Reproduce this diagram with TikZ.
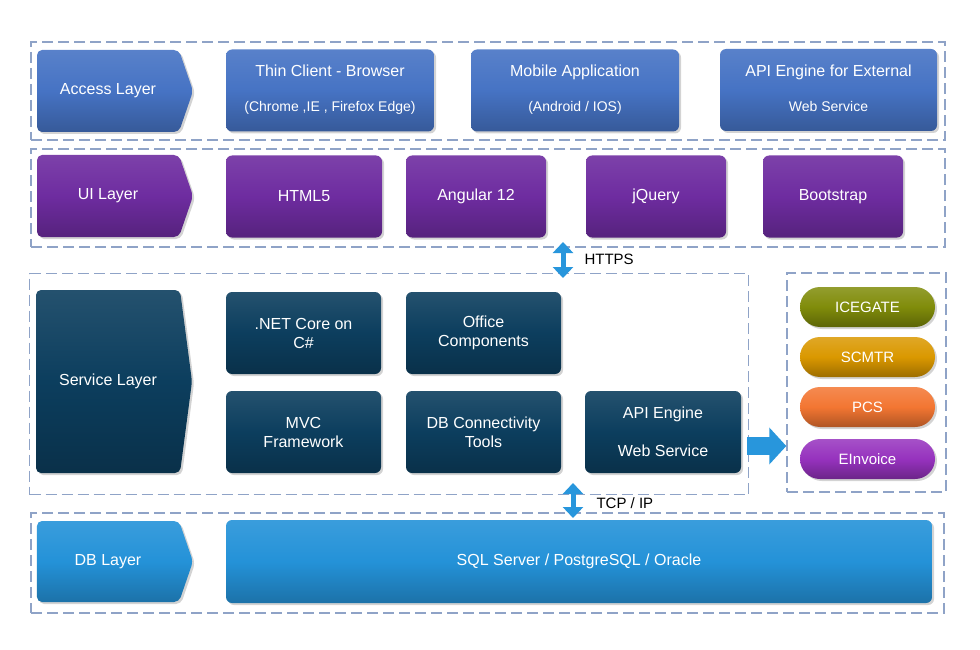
\documentclass[tikz,border=0pt]{standalone}
\usepackage{fontspec}
\setmainfont{Liberation Sans}
\usetikzlibrary{positioning}
\usetikzlibrary{shapes.symbols}
\usetikzlibrary{shapes.misc}
\usetikzlibrary{shadows}
\usetikzlibrary{arrows.meta}
\definecolor{accessblue}{RGB}{70,115,196}
\definecolor{uipurple}{RGB}{110,44,160}
\definecolor{servicedark}{RGB}{12,62,94}
\definecolor{dbblue}{RGB}{36,146,216}
\definecolor{icegateolive}{RGB}{128,140,10}
\definecolor{scmtrgold}{RGB}{218,152,0}
\definecolor{pcsorange}{RGB}{243,118,50}
\definecolor{einvoicepurple}{RGB}{150,50,190}
\definecolor{framegrey}{RGB}{143,163,199}
\definecolor{arrowblue}{RGB}{40,150,220}
\begin{document}
\begin{tikzpicture}[x=1pt, y=-1pt,
    every node/.style={align=center, font=\fontsize{16}{19}\selectfont},
    frame/.style={draw=framegrey, line width=1.4pt, dash pattern=on 11pt off 5pt, inner sep=0pt},
    layer/.style={shape=signal, signal to=east, signal pointer angle=142, rounded corners=5pt,
        minimum width=156pt, minimum height=82pt, inner sep=0pt, text=white,
        top color=#1!90!white, bottom color=#1!78!black, middle color=#1,
        drop shadow={shadow xshift=2pt, shadow yshift=-2pt, opacity=0.35}},
    box/.style={rounded corners=6pt, minimum height=82pt, inner sep=0pt, text=white,
        top color=#1!90!white, bottom color=#1!78!black, middle color=#1,
        drop shadow={shadow xshift=2pt, shadow yshift=-2pt, opacity=0.35}},
    pill/.style={rounded rectangle, minimum width=135pt, minimum height=40pt, inner sep=0pt,
        text=white, font=\fontsize{15}{18}\selectfont,
        top color=#1!85!white, bottom color=#1!72!black, middle color=#1,
        drop shadow={shadow xshift=2pt, shadow yshift=-2pt, opacity=0.35}},
    linkarrow/.style={arrowblue, line width=5pt, {Triangle[length=11pt,width=20pt]}-{Triangle[length=11pt,width=20pt]}},
    bigarrow/.style={arrowblue, line width=18pt, -{Triangle[length=17pt,width=36pt]}}]

    \useasboundingbox (0,0) rectangle (980,650);

    % Dashed frames
    \node[frame, minimum width=914pt, minimum height=98pt] (accessFrame) at (488,91) {};
    \node[frame, minimum width=914pt, minimum height=98pt] (uiFrame) at (488,198) {};
    \node[frame, minimum width=719pt, minimum height=221pt] (serviceFrame) at (389,384) {};
    \node[frame, minimum width=159pt, minimum height=219pt] (extFrame) at (866.5,382.5) {};
    \node[frame, minimum width=913pt, minimum height=100pt] (dbFrame) at (487.5,563) {};

    % Access layer
    \node[layer=accessblue] (accessLayer) at (108,91) {\raisebox{2pt}{Access Layer}};
    \node[box=accessblue, minimum width=208pt] (thinClient) at (330,90.5) {\raisebox{4pt}{%
        \begin{tabular}{@{}c@{}}
            Thin Client - Browser\\[16pt]
            {\fontsize{14}{17}\selectfont (Chrome ,IE , Firefox Edge)}
        \end{tabular}}};
    \node[box=accessblue, minimum width=208pt] (mobileApp) at (575,90.5) {\raisebox{4pt}{%
        \begin{tabular}{@{}c@{}}
            Mobile Application\\[16pt]
            {\fontsize{14}{17}\selectfont (Android / IOS)}
        \end{tabular}}};
    \node[box=accessblue, minimum width=217pt] (apiExternal) at (828.5,90) {\raisebox{4pt}{%
        \begin{tabular}{@{}c@{}}
            API Engine for External\\[16pt]
            {\fontsize{14}{17}\selectfont Web Service}
        \end{tabular}}};

    % UI layer
    \node[layer=uipurple] (uiLayer) at (108,196) {UI Layer};
    \node[box=uipurple, minimum width=156pt] (html) at (304,196.5) {HTML5};
    \node[box=uipurple, minimum width=140pt] (angular) at (476,196.5) {Angular 12};
    \node[box=uipurple, minimum width=140pt] (jquery) at (656,196.5) {jQuery};
    \node[box=uipurple, minimum width=140pt] (bootstrap) at (833,196.5) {Bootstrap};

    % Service layer
    \node[layer=servicedark, minimum height=183pt, signal pointer angle=165] (serviceLayer) at (108,381.5) {\raisebox{4pt}{Service Layer}};
    \node[box=servicedark, minimum width=155pt] (netCore) at (303.5,333) {.NET Core on\\C\#};
    \node[box=servicedark, minimum width=155pt] (office) at (483.5,333) {Office\\Components};
    \node[box=servicedark, minimum width=155pt] (mvc) at (303.5,432) {MVC\\Framework};
    \node[box=servicedark, minimum width=155pt] (dbTools) at (483.5,432) {DB Connectivity\\Tools};
    \node[box=servicedark, minimum width=156pt] (apiEngine) at (663,432) {API Engine\\[19pt]Web Service};

    % External services
    \node[pill=icegateolive] (icegate) at (867.5,307) {ICEGATE};
    \node[pill=scmtrgold] (scmtr) at (867.5,357) {SCMTR};
    \node[pill=pcsorange] (pcs) at (867.5,407) {PCS};
    \node[pill=einvoicepurple] (einvoice) at (867.5,459) {EInvoice};

    % DB layer
    \node[layer=dbblue, minimum height=81pt] (dbLayer) at (108,561.5) {DB Layer};
    \node[box=dbblue, minimum width=706pt, minimum height=83pt] (sqlServer) at (579,561.5) {SQL Server / PostgreSQL / Oracle};

    % Links
    \coordinate (httpsTop) at (563,242);
    \coordinate (httpsBot) at (563,278);
    \draw[linkarrow] (httpsTop) -- (httpsBot);
    \node[anchor=west, font=\fontsize{15}{18}\selectfont] (httpsLabel) at (581,259) {HTTPS};

    \coordinate (tcpTop) at (573,483);
    \coordinate (tcpBot) at (573,518);
    \draw[linkarrow] (tcpTop) -- (tcpBot);
    \node[anchor=west, font=\fontsize{15}{18}\selectfont] (tcpLabel) at (593,503) {TCP / IP};

    \coordinate (bigStart) at ([xshift=6pt, yshift=-14pt]apiEngine.east);
    \draw[bigarrow] (bigStart) -- (bigStart -| extFrame.west);

\end{tikzpicture}
\end{document}
